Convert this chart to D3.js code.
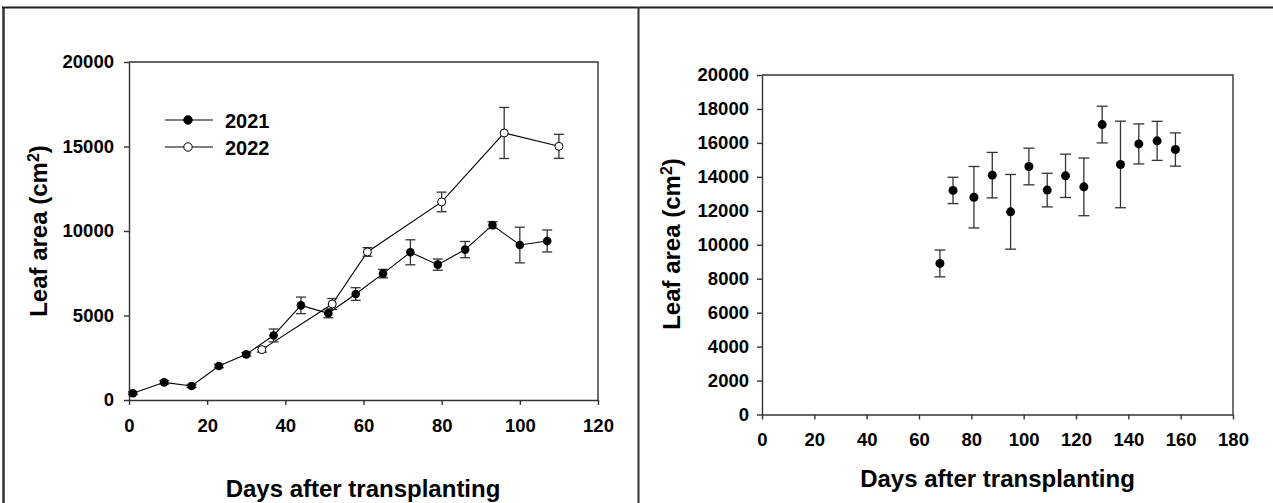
<!DOCTYPE html>
<html>
<head>
<meta charset="utf-8">
<script src="https://cdn.jsdelivr.net/npm/d3@7"></script>
<style>
  body { margin: 0; background: #fff; }
  svg { display: block; font-family: "Liberation Sans", Arial, sans-serif; }
  .axis text { font-weight: bold; font-size: 18.5px; fill: #000; font-family: "Liberation Sans", Arial, sans-serif; }
  .axis path, .axis line { stroke: #333; stroke-width: 1.4; }
  .title { font-weight: bold; font-size: 24px; fill: #000; }
</style>
</head>
<body>
<div id="chart"></div>
<script>
// Left panel: 2021 and 2022 seasons
const days2021 = [1, 9, 16, 23, 30, 37, 44, 51, 58, 65, 72, 79, 86, 93, 100, 107];
const area2021 = [400, 1045, 830, 2010, 2700, 3820, 5600, 5130, 6270, 7480, 8740, 8010, 8900, 10350, 9170, 9410];
const se2021 = [80, 100, 90, 100, 100, 380, 490, 265, 375, 250, 740, 335, 480, 200, 1055, 650];

const days2022 = [34, 52, 61, 80, 96, 110];
const area2022 = [2980, 5680, 8760, 11720, 15800, 15010];
const se2022 = [150, 325, 255, 580, 1510, 710];

// Right panel
const daysRight = [68, 73, 81, 88, 95, 102, 109, 116, 123, 130, 137, 144, 151, 158];
const areaRight = [8900, 13200, 12800, 14100, 11940, 14610, 13220, 14060, 13410, 17080, 14730, 15940, 16120, 15610];
const seRight = [790, 775, 1810, 1340, 2200, 1080, 990, 1275, 1700, 1080, 2550, 1180, 1150, 980];

const leftXTicks = [0, 20, 40, 60, 80, 100, 120];
const leftYTicks = [0, 5000, 10000, 15000, 20000];
const rightXTicks = [0, 20, 40, 60, 80, 100, 120, 140, 160, 180];
const rightYTicks = [0, 2000, 4000, 6000, 8000, 10000, 12000, 14000, 16000, 18000, 20000];

const width = 1273;
const height = 503;

const svg = d3.select("#chart")
    .append("svg")
    .attr("width", width)
    .attr("height", height);

// outer frame lines
svg.append("line").attr("x1", 3.5).attr("x2", 3.5).attr("y1", 7).attr("y2", height)
    .attr("stroke", "#333").attr("stroke-width", 2.5);
svg.append("line").attr("x1", 2).attr("x2", width).attr("y1", 7.5).attr("y2", 7.5)
    .attr("stroke", "#222").attr("stroke-width", 2);
svg.append("line").attr("x1", 638.5).attr("x2", 638.5).attr("y1", 7).attr("y2", height)
    .attr("stroke", "#333").attr("stroke-width", 2);

// draw one panel frame + axes, returns scales
function drawPanel(box, xMax, yMax, xTicks, yTicks, xPad, yPad) {
    const x = d3.scaleLinear().domain([0, xMax]).range([box.left, box.right]);
    const y = d3.scaleLinear().domain([0, yMax]).range([box.bottom, box.top]);

    // top and right edges of the frame
    svg.append("path")
        .attr("d", `M${box.left},${box.top}H${box.right}V${box.bottom}`)
        .attr("fill", "none")
        .attr("stroke", "#333")
        .attr("stroke-width", 1.4);

    svg.append("g")
        .attr("class", "axis")
        .attr("transform", `translate(0,${box.bottom})`)
        .call(d3.axisBottom(x).tickValues(xTicks).tickFormat(d3.format("d"))
            .tickSize(5).tickSizeOuter(0).tickPadding(xPad));

    svg.append("g")
        .attr("class", "axis")
        .attr("transform", `translate(${box.left},0)`)
        .call(d3.axisLeft(y).tickValues(yTicks).tickFormat(d3.format("d"))
            .tickSize(5).tickSizeOuter(0).tickPadding(yPad));

    return { x, y };
}

function errorBars(sc, days, vals, se, cap) {
    const g = svg.append("g").attr("stroke", "#333").attr("stroke-width", 1.3);
    days.forEach((d, i) => {
        const cx = sc.x(d);
        const y1 = sc.y(vals[i] + se[i]);
        const y2 = sc.y(vals[i] - se[i]);
        g.append("line").attr("x1", cx).attr("x2", cx).attr("y1", y1).attr("y2", y2);
        g.append("line").attr("x1", cx - cap).attr("x2", cx + cap).attr("y1", y1).attr("y2", y1);
        g.append("line").attr("x1", cx - cap).attr("x2", cx + cap).attr("y1", y2).attr("y2", y2);
    });
}

function yTitle(cx, cy) {
    const t = svg.append("text")
        .attr("class", "title")
        .attr("text-anchor", "middle")
        .attr("transform", `translate(${cx},${cy}) rotate(-90)`)
        .attr("dy", "0.35em");
    t.append("tspan").text("Leaf area (cm");
    t.append("tspan").attr("font-size", "16px").attr("dy", "-0.55em").text("2");
    t.append("tspan").attr("dy", "0.35em").text(")");
}

// ---- Left panel ----
const L = drawPanel({ left: 129, right: 598, top: 62, bottom: 400 }, 120, 20000,
    leftXTicks, leftYTicks, 14, 10);

const line = d3.line().x(d => L.x(d[0])).y(d => L.y(d[1]));

svg.append("path")
    .datum(days2021.map((d, i) => [d, area2021[i]]))
    .attr("d", line)
    .attr("fill", "none").attr("stroke", "#000").attr("stroke-width", 1.1);
svg.append("path")
    .datum(days2022.map((d, i) => [d, area2022[i]]))
    .attr("d", line)
    .attr("fill", "none").attr("stroke", "#000").attr("stroke-width", 1.1);

errorBars(L, days2021, area2021, se2021, 5);
errorBars(L, days2022, area2022, se2022, 5);

svg.append("g").selectAll("circle")
    .data(days2021)
    .enter().append("circle")
    .attr("cx", d => L.x(d))
    .attr("cy", (d, i) => L.y(area2021[i]))
    .attr("r", 4.3)
    .attr("fill", "#000");

svg.append("g").selectAll("circle")
    .data(days2022)
    .enter().append("circle")
    .attr("cx", d => L.x(d))
    .attr("cy", (d, i) => L.y(area2022[i]))
    .attr("r", 4)
    .attr("fill", "#fff")
    .attr("stroke", "#000")
    .attr("stroke-width", 1);

// legend
const legend = [
    { label: "2021", fill: "#000", y: 120 },
    { label: "2022", fill: "#fff", y: 147 }
];
legend.forEach(item => {
    svg.append("line").attr("x1", 165).attr("x2", 213).attr("y1", item.y).attr("y2", item.y)
        .attr("stroke", "#000").attr("stroke-width", 1.1);
    svg.append("circle").attr("cx", 188).attr("cy", item.y).attr("r", 4.2)
        .attr("fill", item.fill).attr("stroke", "#000").attr("stroke-width", 1);
    svg.append("text").attr("x", 225).attr("y", item.y + 7.5)
        .attr("font-weight", "bold").attr("font-size", "20px").text(item.label);
});

yTitle(39, 231);
svg.append("text").attr("class", "title").attr("text-anchor", "middle")
    .attr("x", 363).attr("y", 497).text("Days after transplanting");

// ---- Right panel ----
const R = drawPanel({ left: 762, right: 1233, top: 75, bottom: 414.5 }, 180, 20000,
    rightXTicks, rightYTicks, 13, 8);

errorBars(R, daysRight, areaRight, seRight, 5.5);

svg.append("g").selectAll("circle")
    .data(daysRight)
    .enter().append("circle")
    .attr("cx", d => R.x(d))
    .attr("cy", (d, i) => R.y(areaRight[i]))
    .attr("r", 4.5)
    .attr("fill", "#000");

yTitle(672, 244);
svg.append("text").attr("class", "title").attr("text-anchor", "middle")
    .attr("x", 997.5).attr("y", 487).text("Days after transplanting");
</script>
</body>
</html>
